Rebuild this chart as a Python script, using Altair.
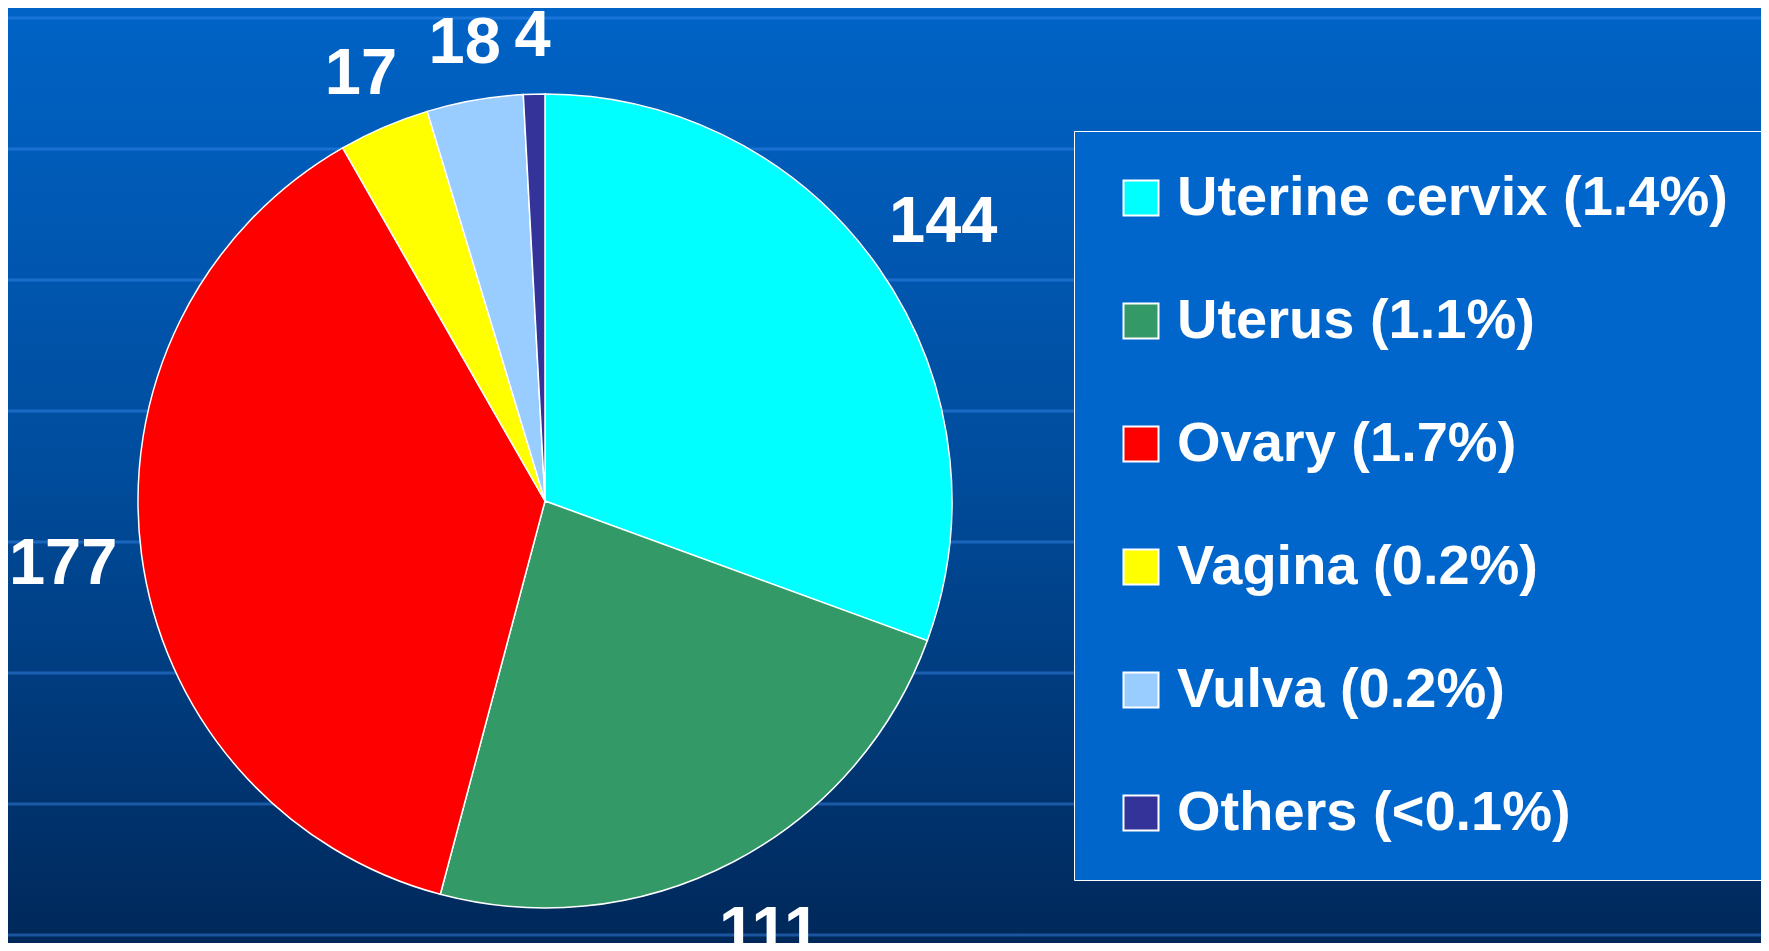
import altair as alt
import pandas as pd

# ---- data ----
sites = ["Uterine cervix", "Uterus", "Ovary", "Vagina", "Vulva", "Others"]
cases = [144, 111, 177, 17, 18, 4]
shares = ["1.4%", "1.1%", "1.7%", "0.2%", "0.2%", "<0.1%"]
colors = ["#00FFFF", "#339966", "#FF0000", "#FFFF00", "#99CCFF", "#333399"]

# decorative background grid rows (svg pixel rows)
grid_rows = [10, 141, 272, 403, 534, 665, 796, 927]

W, H = 1753, 935
CX, CY, R = 537, 493, 407

labels = [f"{s} ({p})" for s, p in zip(sites, shares)]
df = pd.DataFrame({"site": labels, "cases": cases, "idx": list(range(len(sites)))})
grid_df = pd.DataFrame({"row": grid_rows})
bg_df = pd.DataFrame({"k": [0]})

bg = alt.Chart(bg_df).mark_rect(
    color=alt.Gradient(
        gradient="linear",
        stops=[
            alt.GradientStop(color="#0063C6", offset=0),
            alt.GradientStop(color="#004C9C", offset=0.5),
            alt.GradientStop(color="#00285A", offset=1),
        ],
        x1=0, x2=0, y1=0, y2=1,
    )
).encode(x=alt.value(0), x2=alt.value(W), y=alt.value(0), y2=alt.value(H))

grid = alt.Chart(grid_df).mark_rule(color="#3A8CF0", strokeWidth=3, opacity=0.45).encode(
    y=alt.Y("row:Q", scale=alt.Scale(domain=[0, H], range=[0, H]), axis=None),
    x=alt.value(0),
    x2=alt.value(W),
)

color = alt.Color(
    "site:N",
    scale=alt.Scale(domain=labels, range=colors),
    legend=alt.Legend(
        title=None,
        orient="none",
        legendX=1066,
        legendY=123,
        direction="vertical",
        symbolType="square",
        symbolSize=1225,
        symbolStrokeColor="white",
        symbolStrokeWidth=2,
        symbolOpacity=1,
        labelFont="Liberation Sans",
        labelFontWeight="bold",
        labelFontSize=56,
        labelColor="white",
        labelLimit=900,
        labelOffset=8,
        rowPadding=67,
        padding=39,
        fillColor="#0066CC",
        strokeColor="white",
    ),
)

base = alt.Chart(df).encode(
    theta=alt.Theta("cases:Q", stack=True),
    order=alt.Order("idx:Q"),
)

pie = base.mark_arc(radius=R, stroke="white", strokeWidth=1.5).encode(
    color=color,
    x=alt.value(CX),
    y=alt.value(CY),
)

txt = base.mark_text(
    radius=alt.expr("datum.cases >= 100 ? 486 : 465"),
    font="Liberation Sans",
    fontWeight="bold",
    fontSize=65,
    color="white",
    align="center",
    baseline="middle",
).encode(
    text=alt.Text("cases:Q"),
    x=alt.value(CX),
    y=alt.value(CY),
)

chart = (
    alt.layer(bg, grid, pie, txt)
    .properties(width=W, height=H, padding=0, autosize=alt.AutoSizeParams(type="none"), background="#00285A")
    .configure_view(stroke=None)
)

chart.save("out.html", embed_options={"renderer": "svg", "actions": False})
